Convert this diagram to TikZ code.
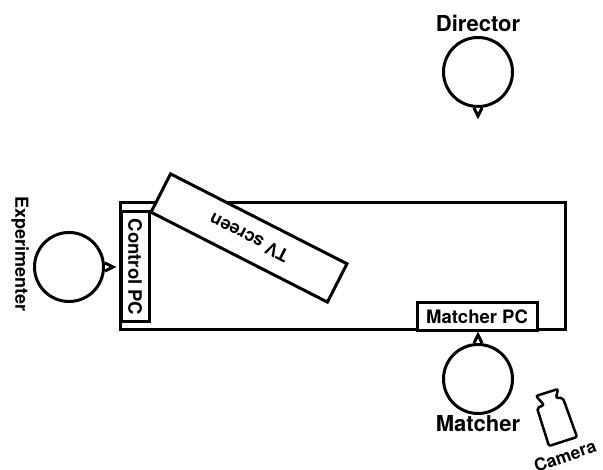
\documentclass[tikz,border=0pt]{standalone}
\usepackage{fontspec}
\setmainfont{TeX Gyre Heros}
\usepackage{tikz}
\usetikzlibrary{positioning}

\begin{document}
\begin{tikzpicture}[x=1pt, y=-1pt, line width=3pt,
  person/.style={circle, draw, minimum size=69pt, inner sep=0pt},
  box/.style={rectangle, draw, fill=white, inner sep=0pt, font=\bfseries\fontsize{18.5}{20}\selectfont},
  role/.style={font=\bfseries\fontsize{22}{24}\selectfont},
  nose/.style={line width=3pt, fill=white, line join=miter}]
  \useasboundingbox (0,0) rectangle (603,470);

  % Table
  \node[box, minimum width=445pt, minimum height=127pt] (table) at (342.5,266.5) {};

  % Screens and computers
  \node[box, rotate=-90, minimum width=110pt, minimum height=28pt] (control) at (135,267) {Control PC};
  \node[box, rotate=153, minimum width=198pt, minimum height=43pt, font=\bfseries\fontsize{18}{20}\selectfont] (tv) at (249,238) {TV screen};
  \node[box, minimum width=120pt, minimum height=28pt] (matcherpc) at (477,317) {Matcher PC};

  % People
  \node[person] (director) at (478,72) {};
  \node[person] (experimenter) at (69,267) {};
  \node[person] (matcher) at (478,379) {};
  \node[role, above=-1pt of director] (directorlabel) {Director};
  \node[role, below=-4pt of matcher] (matcherlabel) {Matcher};
  \node[rotate=-90, font=\bfseries\fontsize{18}{20}\selectfont] (experimenterlabel) at (20,254) {Experimenter};

  % Noses
  \draw[nose] (director.south) ++(-4,0) -- ++(4,8) -- ++(4,-8);
  \draw[nose] (experimenter.east) ++(0,-4) -- ++(8,4) -- ++(-8,4);
  \draw[nose] (matcher.north) ++(-4,0) -- ++(4,-8) -- ++(4,8);

  % Camera
  \draw[line width=2.5pt, rounded corners=2pt] (537,408) -- (544,405) -- (536,396) -- (558,389) -- (556,398)
    -- (563,398) -- (577,437) -- (549,446) -- cycle;
  \node[rotate=19, font=\bfseries\fontsize{17.5}{20}\selectfont] (cameralabel) at (565,456) {Camera};
\end{tikzpicture}
\end{document}
